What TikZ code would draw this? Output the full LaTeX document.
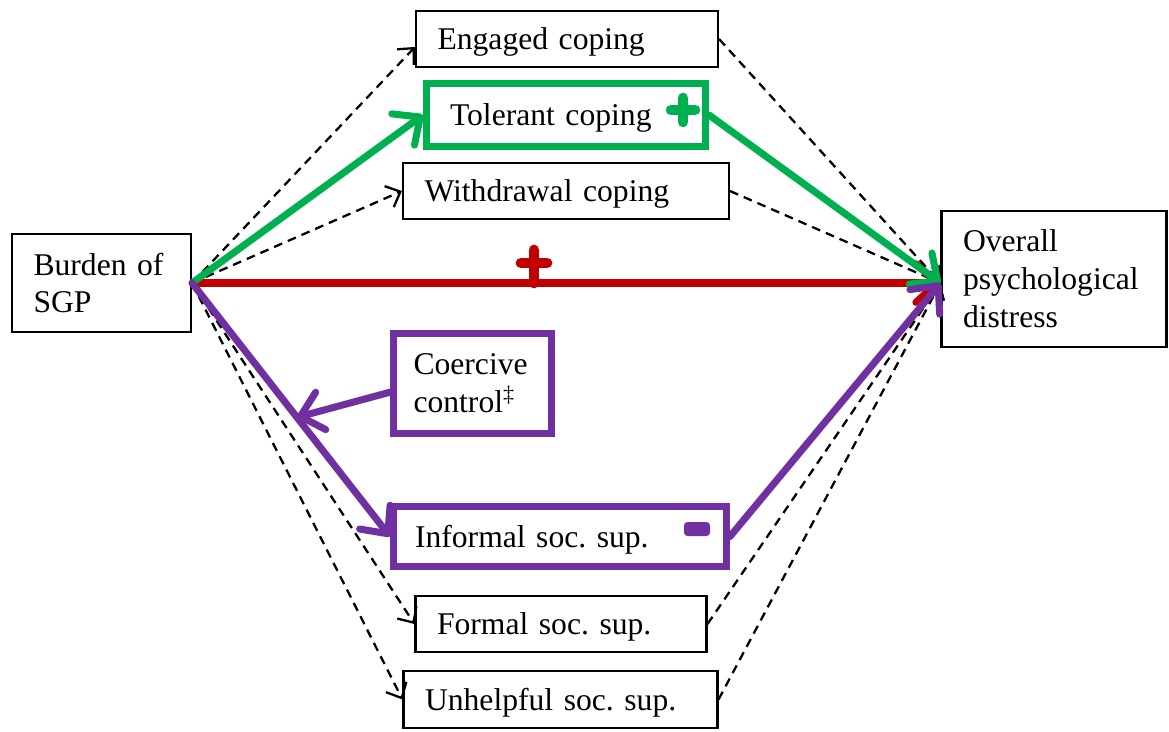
\documentclass[tikz,border=0pt]{standalone}
\usepackage{fontspec}
\setmainfont{Liberation Serif}
\frenchspacing
\usetikzlibrary{arrows.meta,calc}
\definecolor{pathgreen}{HTML}{00B050}
\definecolor{pathred}{HTML}{C00000}
\definecolor{pathpurple}{HTML}{7030A0}

\begin{document}
\begin{tikzpicture}[x=0.02cm, y=-0.02cm,
    box/.style={draw, line width=1.2pt, align=left, inner xsep=0.43cm, inner ysep=0pt,
        font=\fontsize{18}{21.6}\selectfont},
    onebox/.style={box, text depth=0pt},
    hibox/.style={line width=4pt},
    nspath/.style={line width=1.3pt, dash pattern=on 5pt off 3.5pt,
        -{Straight Barb[length=7pt,width=13pt]}},
    sigpath/.style={line width=4pt, line cap=round,
        -{Straight Barb[length=12pt,width=22pt,round]}}]
    \useasboundingbox (0,0) rectangle (1169,731);

    % Boxes
    \node[box, text width=2.72cm, minimum height=1.96cm] (burden) at (101.5,283) {Burden of\\SGP};
    \node[box, text width=3.64cm, minimum height=2.72cm] (dist) at (1054,279) {Overall\\psychological\\distress};
    \node[onebox, text width=5.18cm, minimum height=1.12cm] (eng) at (567,39) {Engaged coping};
    \node[onebox, hibox, draw=pathgreen, inner xsep=0.47cm, text width=4.64cm, minimum height=1.26cm] (tol) at (566,115) {Tolerant coping};
    \node[onebox, text width=5.66cm, minimum height=1.12cm] (wd) at (566,191) {Withdrawal coping};
    \node[box, hibox, draw=pathpurple, inner xsep=0.4cm, text width=2.36cm, minimum height=2cm] (coer) at (472.5,383.5) {Coercive\\control\textsuperscript{‡}};
    \node[onebox, hibox, draw=pathpurple, text width=5.8cm, minimum height=1.2cm] (inf) at (560,536.5) {Informal soc. sup.};
    \node[onebox, text width=4.96cm, minimum height=1.12cm] (form) at (561,624) {Formal soc. sup.};
    \node[onebox, text width=5.42cm, minimum height=1.14cm] (unh) at (560.5,699.5) {Unhelpful soc. sup.};
    \coordinate (into) at (dist.west |- burden.east);

    % Non-significant paths
    \foreach \m in {wd,form,unh}
        \draw[nspath] (burden.east) -- (\m.west);
    \draw[nspath] (burden.east) -- (eng.183);
    \foreach \m in {eng,wd,form,unh}
        \draw[nspath] (\m.east) -- (into);

    % Direct path
    \draw[sigpath, pathred, line cap=butt] (burden.east) -- (into);
    \draw[pathred, line width=6.2pt, line cap=round] (521,263) -- (547,263) (534,250) -- (534,283);

    % Tolerant coping
    \draw[sigpath, pathgreen] (burden.east) -- (tol.west);
    \draw[sigpath, pathgreen] (tol.east) -- (into);
    \draw[pathgreen, line width=6pt, line cap=round] (671,110) -- (695,110) (683,98) -- (683,122);

    % Informal social support
    \coordinate (cctip) at ($(burden.east)!0.53!(inf.west)$);
    \draw[sigpath, pathpurple] (burden.east) -- (inf.west);
    \draw[sigpath, pathpurple] (inf.east) -- (into);
    \draw[sigpath, pathpurple] (coer.186) -- (cctip);
    \fill[pathpurple, rounded corners=2pt] (684,522) rectangle (710,536);
\end{tikzpicture}
\end{document}
